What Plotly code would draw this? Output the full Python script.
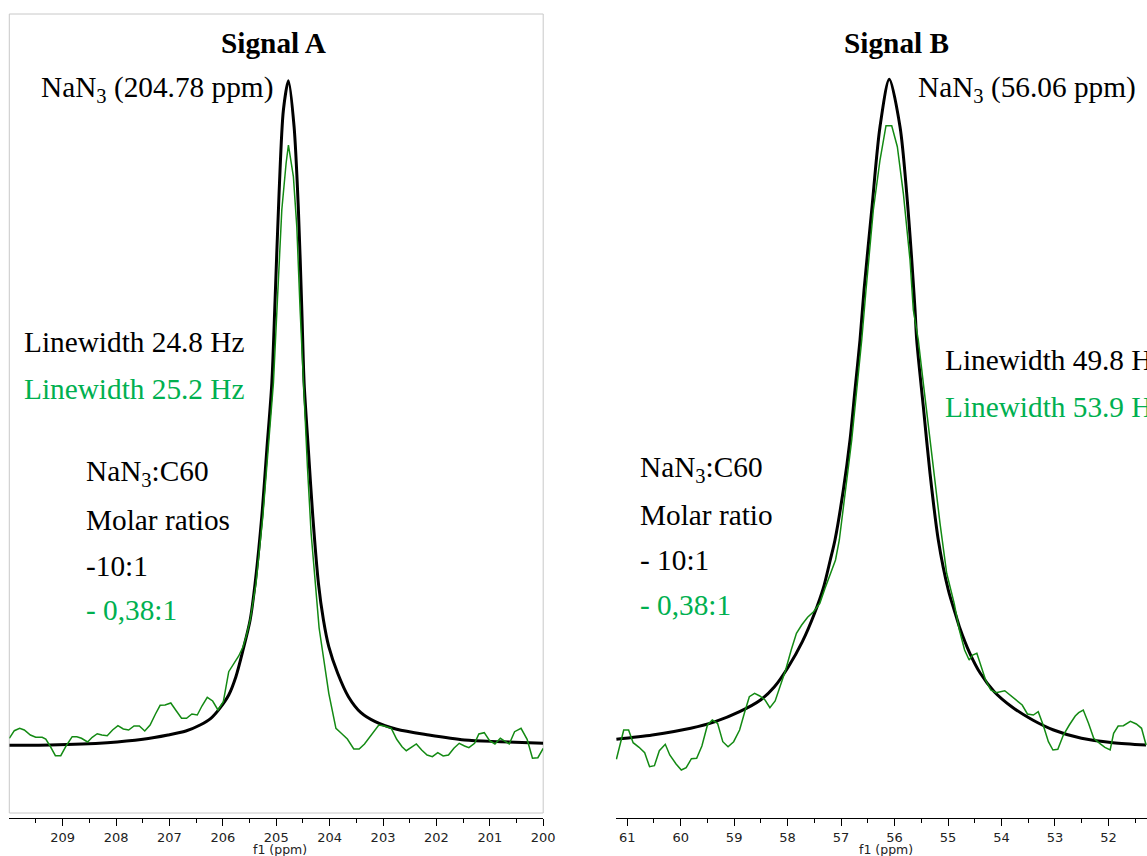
import plotly.graph_objects as go

# ---------------- data ----------------
# Signal A  (x in ppm, y in arbitrary intensity units)
a_black_ppm = [210.0, 209.237, 208.166, 207.497, 207.028, 206.693, 206.426, 206.225, 206.058, 205.890,
               205.756, 205.622, 205.489, 205.396, 205.271, 205.177, 205.083, 205.022, 204.947, 204.866,
               204.772, 204.666, 204.585, 204.521, 204.478, 204.398, 204.315, 204.210, 204.116, 204.016,
               203.849, 203.648, 203.414, 203.146, 202.744, 202.142, 201.473, 200.803, 200.0]
a_black_int = [72.7, 73.0, 75.3, 78.7, 83.0, 87.0, 93.0, 99.7, 109.7, 123.0,
               141.3, 168.0, 198, 234.7, 301.3, 368, 434.7, 518, 625, 708,
               737.3, 691.3, 608, 508, 435, 368, 301.3, 234.7, 198, 171.3,
               144.7, 121.3, 105.3, 96.3, 88.7, 83.0, 78.0, 76.3, 74.7]

a_green_ppm = [210.000, 209.906, 209.806, 209.719, 209.605, 209.505, 209.384, 209.317, 209.237, 209.137,
               209.036, 208.936, 208.822, 208.735, 208.648, 208.534, 208.447, 208.353, 208.266, 208.166,
               208.066, 207.965, 207.865, 207.764, 207.664, 207.564, 207.463, 207.363, 207.262, 207.175,
               207.082, 206.975, 206.874, 206.774, 206.680, 206.580, 206.479, 206.392, 206.292, 206.191,
               206.091, 205.991, 205.890, 205.790, 205.703, 205.622, 205.556, 205.489, 205.378, 205.252,
               205.147, 205.053, 204.978, 204.896, 204.815, 204.772, 204.679, 204.615, 204.553, 204.478,
               204.416, 204.347, 204.272, 204.197, 204.016, 203.882, 203.782, 203.668, 203.548, 203.447,
               203.347, 203.213, 203.079, 202.979, 202.845, 202.744, 202.644, 202.564, 202.477, 202.376,
               202.276, 202.175, 202.075, 201.975, 201.874, 201.774, 201.673, 201.573, 201.473, 201.392,
               201.285, 201.205, 201.104, 201.004, 200.904, 200.803, 200.736, 200.636, 200.536, 200.415,
               200.301, 200.201, 200.100, 200.000]
a_green_int = [79.7, 87.3, 89.7, 88.0, 83.0, 80.7, 80.7, 79.0, 72.0, 62.3,
               62.3, 72.0, 81.3, 81.3, 79.7, 76.0, 80.7, 84.3, 83.0, 82.3,
               88.0, 92.3, 89.0, 88.0, 92.0, 92.0, 87.0, 93.0, 104.0, 112.7,
               113.0, 115.0, 107.3, 99.7, 99.7, 104.0, 103.0, 112.0, 120.7, 117.0,
               108.0, 116.3, 146.3, 154.7, 162.0, 171.3, 183.0, 198, 235, 301.3,
               368, 435, 518, 608, 655, 673, 641.3, 591.3, 508, 418,
               351.3, 284.7, 234.7, 190, 124.7, 89.7, 84.7, 79.0, 69.0, 69.0,
               74.0, 83.0, 93.0, 92.0, 89.7, 78.7, 71.3, 67.3, 70.7, 74.0,
               68.0, 63.0, 61.3, 65.3, 62.0, 63.0, 69.7, 74.7, 72.0, 70.3,
               74.7, 84.0, 85.3, 77.3, 74.0, 79.7, 77.3, 74.0, 86.3, 89.7,
               78.7, 59.7, 60.3, 69.7]

# Signal B
b_black_ppm = [61.202, 60.530, 59.812, 59.355, 58.898, 58.507, 58.246, 57.985, 57.724, 57.496,
               57.333, 57.202, 57.114, 56.958, 56.833, 56.740, 56.646, 56.571, 56.427, 56.272,
               56.098, 55.898, 55.773, 55.617, 55.586, 55.462, 55.337, 55.182, 54.995, 54.838,
               54.788, 54.592, 54.396, 54.135, 53.809, 53.417, 53.026, 52.504, 51.916, 51.296]
b_black_int = [78.7, 83.0, 89.7, 96.3, 106.3, 118.0, 131.3, 151.3, 176.3, 204.7,
               229.7, 258, 278, 328, 378, 428, 478, 528, 608, 691.3,
               738.7, 691.3, 624.7, 508, 478, 411.3, 344.7, 278, 228, 200,
               191.3, 164.7, 144.7, 126.3, 111.3, 98.0, 88.0, 79.7, 75.3, 73.0]

b_green_ppm = [61.202, 61.065, 60.974, 60.889, 60.778, 60.673, 60.582, 60.491, 60.399, 60.288,
               60.204, 60.086, 59.988, 59.897, 59.799, 59.701, 59.603, 59.499, 59.408, 59.310,
               59.212, 59.114, 59.009, 58.898, 58.801, 58.716, 58.618, 58.520, 58.422, 58.331,
               58.233, 58.135, 58.037, 57.933, 57.835, 57.737, 57.626, 57.515, 57.398, 57.300,
               57.202, 57.104, 57.033, 56.914, 56.801, 56.708, 56.614, 56.534, 56.397, 56.272,
               56.160, 56.053, 55.948, 55.836, 55.711, 55.649, 55.556, 55.462, 55.305, 55.150,
               55.025, 54.885, 54.788, 54.690, 54.605, 54.540, 54.461, 54.383, 54.298, 54.200,
               54.102, 53.939, 53.776, 53.613, 53.515, 53.404, 53.313, 53.221, 53.123, 53.038,
               52.947, 52.843, 52.732, 52.621, 52.556, 52.471, 52.373, 52.275, 52.164, 52.066,
               51.968, 51.903, 51.818, 51.720, 51.590, 51.479, 51.381, 51.296]
b_green_int = [58.7, 88.0, 88.0, 75.3, 70.7, 65.3, 51.3, 52.3, 67.3, 73.7,
               63.0, 54.0, 48.0, 50.3, 59.3, 59.7, 72.0, 93.0, 98.0, 94.7,
               76.3, 71.3, 76.3, 88.0, 106.3, 121.3, 124.7, 122.0, 118.0, 110.3,
               117.0, 132.0, 148.0, 168.0, 184.7, 193.0, 200.7, 206.3, 214.7, 229.7,
               244.7, 258, 278, 328, 378, 428, 478, 528, 608, 658,
               692.3, 692.3, 671.3, 624.7, 558, 508, 478, 434.7, 361.3, 294.7,
               244.7, 214.7, 188.0, 168.0, 158.0, 163.0, 164.7, 151.3, 138.0, 128.0,
               125.3, 127.3, 119.7, 113.0, 104.0, 103.0, 106.3, 93.0, 76.3, 68.0,
               68.7, 83.0, 93.0, 102.0, 105.3, 108.0, 94.7, 79.7, 74.7, 70.7,
               68.0, 84.7, 92.0, 92.3, 96.7, 94.0, 89.7, 73.0]

a_ticks = [209, 208, 207, 206, 205, 204, 203, 202, 201, 200]
a_minor = [209.5, 208.5, 207.5, 206.5, 205.5, 204.5, 203.5, 202.5, 201.5, 200.5]
b_ticks = [61, 60, 59, 58, 57, 56, 55, 54, 53, 52]
b_minor = [60.5, 59.5, 58.5, 57.5, 56.5, 55.5, 54.5, 53.5, 52.5, 51.5]

# ---------------- figure ----------------
W, H = 1147, 856
def px(x):
    return x / W
def py(y):
    return 1 - y / H

BLACK = "#000000"
GREEN_LINE = "#138a13"
GREEN_TEXT = "#00b050"
SERIF = "Liberation Serif, Times New Roman, serif"
SANS = "DejaVu Sans, Verdana, sans-serif"

fig = go.Figure()
fig.add_trace(go.Scatter(x=a_black_ppm, y=a_black_int, mode="lines",
                         line=dict(color=BLACK, width=3, shape="spline", smoothing=0.8),
                         xaxis="x", yaxis="y", hoverinfo="skip"))
fig.add_trace(go.Scatter(x=a_green_ppm, y=a_green_int, mode="lines",
                         line=dict(color=GREEN_LINE, width=1.5),
                         xaxis="x", yaxis="y", hoverinfo="skip"))
fig.add_trace(go.Scatter(x=b_black_ppm, y=b_black_int, mode="lines",
                         line=dict(color=BLACK, width=3, shape="spline", smoothing=0.8),
                         xaxis="x2", yaxis="y2", hoverinfo="skip"))
fig.add_trace(go.Scatter(x=b_green_ppm, y=b_green_int, mode="lines",
                         line=dict(color=GREEN_LINE, width=1.5),
                         xaxis="x2", yaxis="y2", hoverinfo="skip"))

def xaxis_cfg(domain, rng, ticks, minor):
    return dict(domain=domain, range=rng, showgrid=False, zeroline=False,
                showline=True, linecolor=BLACK, linewidth=1,
                ticks="outside", ticklen=7, tickwidth=1, tickcolor=BLACK,
                tickmode="array", tickvals=ticks, ticktext=[str(t) for t in ticks],
                tickfont=dict(family=SANS, size=13, color="#222222"),
                ticklabelstandoff=0,
                minor=dict(tickmode="array", tickvals=minor, ticks="outside",
                           ticklen=4, tickwidth=1, tickcolor=BLACK, showgrid=False),
                automargin=False, fixedrange=True)

ydom = [py(818), py(14)]
yrng = [0, 804]
fig.update_layout(
    width=W, height=H,
    margin=dict(l=0, r=0, t=0, b=0),
    paper_bgcolor="white", plot_bgcolor="white",
    showlegend=False,
    xaxis=xaxis_cfg([px(9.3), px(543.2)], [210, 200], a_ticks, a_minor),
    xaxis2=xaxis_cfg([px(615.7), 1.0], [61.215, 51.279], b_ticks, b_minor),
    yaxis=dict(domain=ydom, range=yrng, visible=False, fixedrange=True),
    yaxis2=dict(domain=ydom, range=yrng, visible=False, fixedrange=True, anchor="x2"),
)
fig.update_layout(xaxis2=dict(anchor="y2"))

# light gray frame around Signal A panel
fig.add_shape(type="rect", xref="paper", yref="paper",
              x0=px(9.3), x1=px(543.2), y0=py(813), y1=py(14),
              line=dict(color="#c8c8c8", width=1), layer="below")

def txt(x, y, s, color=BLACK, anchor="left", size=29.3):
    if anchor == "left":
        x -= 3  # compensate annotation padding
    fig.add_annotation(x=px(x), y=py(y), xref="paper", yref="paper", text=s,
                       showarrow=False, xanchor=anchor, yanchor="middle",
                       font=dict(family=SERIF, size=size, color=color))

# titles
txt(273.5, 43, "<b>Signal A</b>", anchor="center")
txt(896, 43, "<b>Signal B</b>", anchor="center")
# peak labels
txt(42, 89, "NaN<sub>3</sub> (204.78 ppm)")
txt(919, 89, "NaN<sub>3</sub> (56.06 ppm)")
# linewidths
txt(25, 342, "Linewidth 24.8 Hz")
txt(25, 389, "Linewidth 25.2 Hz", color=GREEN_TEXT)
txt(946, 360, "Linewidth 49.8 Hz")
txt(946, 407, "Linewidth 53.9 Hz", color=GREEN_TEXT)
# molar ratios
txt(87, 473, "NaN<sub>3</sub>:C60")
txt(87, 520, "Molar ratios")
txt(87, 566, "-10:1")
txt(87, 610, "- 0,38:1", color=GREEN_TEXT)
txt(641, 469, "NaN<sub>3</sub>:C60")
txt(641, 515, "Molar ratio")
txt(641, 560, "- 10:1")
txt(641, 605, "- 0,38:1", color=GREEN_TEXT)

# axis titles
for xc in (280, 886):
    fig.add_annotation(x=px(xc), y=py(849), xref="paper", yref="paper", text="f1 (ppm)",
                       showarrow=False, xanchor="center", yanchor="middle",
                       font=dict(family=SANS, size=12.5, color="#222222"))

fig.write_html("out.html")
